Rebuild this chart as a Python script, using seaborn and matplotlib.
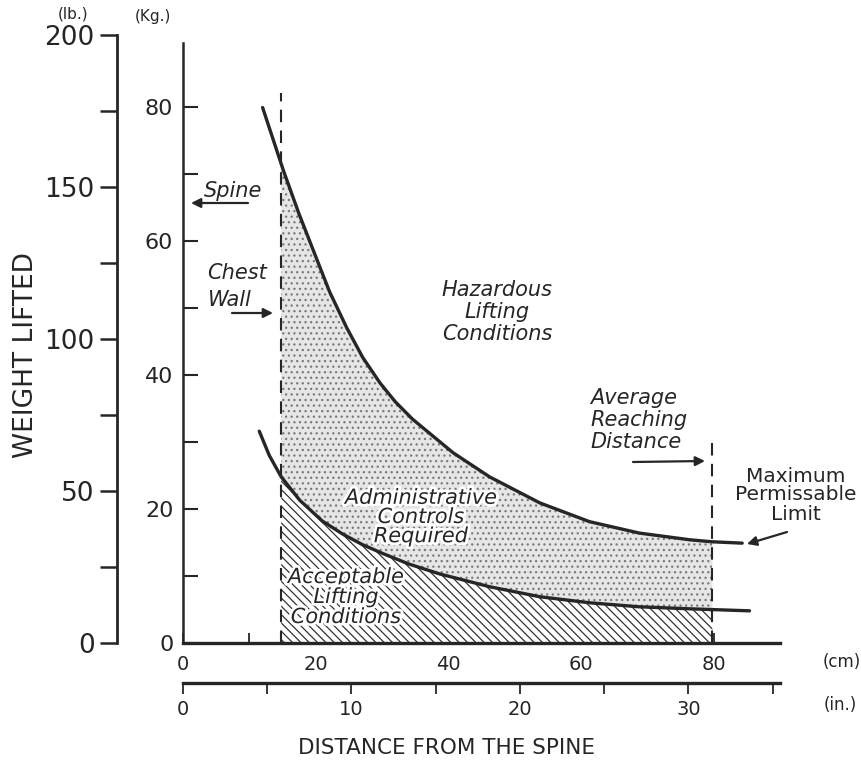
import numpy as np
import pandas as pd
import matplotlib
matplotlib.use("Agg")
import matplotlib.pyplot as plt
import matplotlib.patheffects as pe
from matplotlib.ticker import FixedLocator
import seaborn as sns

# ---------------- data ----------------
# Maximum Permissible Limit curve (cm, kg)
mpl_cm = [12.0, 15.1, 17.5, 19.6, 22.1, 24.7, 27.1, 29.7, 32.0, 34.6, 40.7, 46.2, 53.8, 61.3, 68.8, 76.4, 79.8, 84.3]
mpl_kg = [79.9, 70.6, 64.0, 58.7, 52.4, 47.0, 42.6, 38.8, 36.0, 33.4, 28.4, 24.8, 20.9, 18.1, 16.4, 15.4, 15.1, 14.9]
# Action limit curve (cm, kg)
al_cm = [11.5, 13.0, 14.8, 17.6, 21.0, 24.0, 27.0, 30.0, 34.0, 38.7, 46.2, 53.8, 61.3, 68.8, 76.4, 85.4]
al_kg = [31.6, 28.0, 24.8, 21.3, 18.2, 16.3, 14.7, 13.4, 11.8, 10.3, 8.4, 6.9, 6.0, 5.4, 5.1, 4.8]

chest_wall_cm = 14.8
reach_cm = 79.8
chest_line_top_kg = 82
reach_line_top_kg = 30

kg_major = [0, 20, 40, 60, 80]
kg_minor = [10, 30, 50, 70]
lb_major = [0, 50, 100, 150, 200]
lb_minor = [25, 75, 125, 175]
cm_major = [0, 20, 40, 60, 80]
cm_minor = [10, 30, 50, 70]
in_major = [0, 10, 20, 30]
in_minor = [5, 15, 25, 35]

LB_PER_KG = 2.2046
CM_PER_IN = 2.54

# ---------------- figure ----------------
W, H = 861, 768
sns.set_theme(style="white")
plt.rcParams["font.family"] = ["DejaVu Sans"]
plt.rcParams["hatch.linewidth"] = 0.9

fig = plt.figure(figsize=(W / 100, H / 100), dpi=100)
fig.patch.set_facecolor("white")


def fp(x, y):
    return (x / W, 1 - y / H)


ax_left, ax_right, ax_bottom, ax_top = 183, 780, 643, 35
ax = fig.add_axes([ax_left / W, 1 - ax_bottom / H, (ax_right - ax_left) / W, (ax_bottom - ax_top) / H])
ax.set_facecolor("none")
ax.set_xlim(0, 90)
ax.set_ylim(0, 200 / LB_PER_KG)

ink = "#262626"

# fills
xx = np.linspace(chest_wall_cm, reach_cm, 400)
up = np.interp(xx, mpl_cm, mpl_kg)
lo = np.interp(xx, al_cm, al_kg)
ax.fill_between(xx, lo, up, facecolor="#e6e6e6", edgecolor="#7a7a7a", hatch="...", linewidth=0, zorder=1)
ax.fill_between(xx, 0, lo, facecolor="white", edgecolor="#333333", hatch="\\\\\\\\", linewidth=0, zorder=1)

# curves
df_up = pd.DataFrame({"cm": mpl_cm, "kg": mpl_kg})
df_lo = pd.DataFrame({"cm": al_cm, "kg": al_kg})
sns.lineplot(data=df_up, x="cm", y="kg", ax=ax, color=ink, linewidth=2.4, sort=False, zorder=3)
sns.lineplot(data=df_lo, x="cm", y="kg", ax=ax, color=ink, linewidth=2.4, sort=False, zorder=3)

# dashed verticals
ax.vlines(chest_wall_cm, 0, chest_line_top_kg, colors=ink, linestyles=(0, (6, 4)), linewidth=1.5, zorder=3)
ax.vlines(reach_cm, 0, reach_line_top_kg, colors=ink, linestyles=(0, (6, 4)), linewidth=1.5, zorder=3)

# spines / ticks (kg and cm)
for s in ["top", "right"]:
    ax.spines[s].set_visible(False)
ax.spines["left"].set_bounds(0, 89.5)
ax.spines["left"].set_linewidth(1.8)
ax.spines["left"].set_color(ink)
ax.spines["bottom"].set_linewidth(2.4)
ax.spines["bottom"].set_color(ink)

ax.yaxis.set_major_locator(FixedLocator(kg_major))
ax.yaxis.set_minor_locator(FixedLocator(kg_minor))
ax.set_yticklabels([str(v) for v in kg_major])
ax.tick_params(axis="y", which="both", direction="in", length=11, width=1.5, color=ink,
               labelsize=16, pad=7, labelcolor=ink, left=True)
ax.xaxis.set_major_locator(FixedLocator(cm_major))
ax.xaxis.set_minor_locator(FixedLocator(cm_minor))
ax.set_xticklabels([str(v) for v in cm_major])
ax.tick_params(axis="x", which="both", direction="in", length=7, width=1.3, color=ink,
               labelsize=14, pad=9, labelcolor=ink, bottom=True)
ax.set_xlabel("")
ax.set_ylabel("")

# lb axis
sec_y = ax.secondary_yaxis((117 - ax_left) / (ax_right - ax_left),
                           functions=(lambda k: k * LB_PER_KG, lambda l: l / LB_PER_KG))
sec_y.yaxis.set_major_locator(FixedLocator(lb_major))
sec_y.yaxis.set_minor_locator(FixedLocator(lb_minor))
sec_y.set_yticklabels([str(v) for v in lb_major])
sec_y.tick_params(axis="y", which="both", direction="out", length=12, width=1.8, color=ink,
                  labelsize=19, pad=4, labelcolor=ink)
sec_y.spines["left"].set_linewidth(2.0)
sec_y.spines["left"].set_color(ink)

# inch axis
sec_x = ax.secondary_xaxis(-(683 - ax_bottom) / (ax_bottom - ax_top),
                           functions=(lambda c: c / CM_PER_IN, lambda i: i * CM_PER_IN))
sec_x.xaxis.set_major_locator(FixedLocator(in_major))
sec_x.xaxis.set_minor_locator(FixedLocator(in_minor))
sec_x.set_xticklabels([str(v) for v in in_major])
sec_x.tick_params(axis="x", which="both", direction="out", length=8, width=1.3, color=ink,
                  labelsize=14, pad=4, labelcolor=ink)
sec_x.spines["bottom"].set_linewidth(2.4)
sec_x.spines["bottom"].set_color(ink)

# ---------------- texts ----------------
fig.text(*fp(73, 14), "(lb.)", ha="center", va="center", fontsize=11, color=ink)
fig.text(*fp(153, 16), "(Kg.)", ha="center", va="center", fontsize=11, color=ink)
fig.text(*fp(842, 662), "(cm)", ha="center", va="center", fontsize=12, color=ink)
fig.text(*fp(840, 705), "(in.)", ha="center", va="center", fontsize=12, color=ink)
fig.text(*fp(26, 355), "WEIGHT LIFTED", ha="center", va="center", rotation=90, fontsize=19, color=ink)
fig.text(*fp(447, 748), "DISTANCE FROM THE SPINE", ha="center", va="center", fontsize=15.5, color=ink)

it = dict(style="italic", fontsize=15, color=ink)
fig.text(*fp(233, 191), "Spine", ha="center", va="center", **it)
fig.text(*fp(207, 273), "Chest", ha="left", va="center", **it)
fig.text(*fp(208, 300), "Wall", ha="left", va="center", **it)
fig.text(*fp(497, 312), "Hazardous\nLifting\nConditions", ha="center", va="center",
         linespacing=1.15, **it)
fig.text(*fp(590, 420), "Average\nReaching\nDistance", ha="left", va="center",
         linespacing=1.15, **it)
fig.text(*fp(796, 495), "Maximum\nPermissable\nLimit", ha="center", va="center",
         linespacing=1.0, fontsize=14.5, color=ink)
halo = [pe.withStroke(linewidth=4, foreground="white")]
ax.text(*fp(421, 517), "Administrative\nControls\nRequired", ha="center", va="center",
        transform=fig.transFigure, zorder=2, linespacing=0.95, path_effects=halo, **it)
ax.text(*fp(346, 597), "Acceptable\nLifting\nConditions", ha="center", va="center",
        transform=fig.transFigure, zorder=2, linespacing=1.0, path_effects=halo, **it)

# arrows
arrow_kw = dict(arrowstyle="-|>", color=ink, lw=1.6, mutation_scale=14, shrinkA=0, shrinkB=0)


def arrow(x0, y0, x1, y1):
    ax.annotate("", xy=fp(x1, y1), xycoords="figure fraction",
                xytext=fp(x0, y0), textcoords="figure fraction", arrowprops=arrow_kw)


arrow(248, 203, 191, 203)
arrow(232, 313, 273, 313)
arrow(633, 462, 705, 461)
arrow(787, 532, 747, 544)

fig.savefig("out.png", dpi=100, facecolor="white")
